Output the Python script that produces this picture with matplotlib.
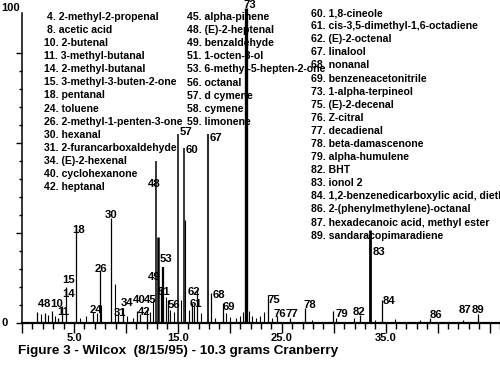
import matplotlib
matplotlib.use("Agg")
import matplotlib.pyplot as plt
import numpy as np
from matplotlib.ticker import MultipleLocator, FixedLocator, FuncFormatter

# ---------------- data ----------------
# labelled peaks: compound number, retention time (min), relative height (%)
peak_num = [4, 8, 10, 11, 14, 15, 18, 24, 26, 30, 31, 34, 40, 42, 45, 48, 49, 51, 53, 56,
            57, 60, 61, 62, 67, 68, 69, 73, 75, 76, 77, 78, 79, 82, 83, 84, 86, 87, 89]
peak_rt = [1.44, 2.21, 2.89, 3.46, 3.85, 4.23, 5.20, 6.83, 7.51, 8.57, 9.24, 9.72, 11.07, 11.36,
           12.03, 12.90, 13.09, 13.38, 13.57, 14.05, 15.01, 15.59, 16.36, 16.84, 17.90, 18.19,
           19.35, 21.56, 23.68, 24.54, 25.79, 27.24, 29.93, 32.53, 33.49, 34.65, 39.27, 42.44, 43.89]
peak_height = [3.5, 3.2, 3.9, 1.6, 5.5, 11.6, 29.3, 3.5, 17.0, 33.8, 2.9, 4.8, 3.9, 2.9,
               4.5, 52.1, 27.7, 11.3, 18.0, 7.4, 61.1, 56.6, 6.4, 10.6, 61.1, 9.6,
               6.4, 101.5, 9.0, 2.3, 1.6, 4.8, 3.9, 2.6, 29.9, 7.4, 1.6, 1.0, 2.9]

# unlabelled peaks
minor_rt = [1.83, 2.50, 3.18, 5.58, 6.16, 7.20, 7.60, 8.95, 10.10, 10.70, 12.30, 12.60, 13.86,
            14.20, 14.60, 15.30, 15.69, 16.07, 16.60, 17.20, 18.60, 19.60, 20.00, 20.60, 21.00,
            21.27, 21.85, 22.10, 22.50, 22.90, 23.30, 24.06, 27.90, 30.20, 31.95, 33.97, 35.90, 38.30]
minor_height = [2.9, 2.6, 2.3, 1.6, 2.3, 3.2, 5.8, 12.5, 2.3, 1.6, 3.5, 7.4, 8.4,
                4.2, 3.5, 7.4, 33.1, 4.2, 5.5, 3.2, 1.6, 3.2, 1.9, 1.6, 2.3,
                3.5, 3.9, 2.3, 1.6, 2.3, 3.5, 1.6, 1.0, 1.6, 1.6, 1.0, 1.3, 1.0]

compound_names = {
    4: "2-methyl-2-propenal", 8: "acetic acid", 10: "2-butenal", 11: "3-methyl-butanal",
    14: "2-methyl-butanal", 15: "3-methyl-3-buten-2-one", 18: "pentanal", 24: "toluene",
    26: "2-methyl-1-penten-3-one", 30: "hexanal", 31: "2-furancarboxaldehyde",
    34: "(E)-2-hexenal", 40: "cyclohexanone", 42: "heptanal",
    45: "alpha-pinene", 48: "(E)-2-heptenal", 49: "benzaldehyde", 51: "1-octen-3-ol",
    53: "6-methyl-5-hepten-2-one", 56: "octanal", 57: "d cymene", 58: "cymene", 59: "limonene",
    60: "1,8-cineole", 61: "cis-3,5-dimethyl-1,6-octadiene", 62: "(E)-2-octenal", 67: "linalool",
    68: "nonanal", 69: "benzeneacetonitrile", 73: "1-alpha-terpineol", 75: "(E)-2-decenal",
    76: "Z-citral", 77: "decadienal", 78: "beta-damascenone", 79: "alpha-humulene", 82: "BHT",
    83: "ionol 2", 84: "1,2-benzenedicarboxylic acid, diethyl ester", 86: "2-(phenylmethylene)-octanal",
    87: "hexadecanoic acid, methyl ester", 89: "sandaracopimaradiene",
}
legend_columns = [
    [4, 8, 10, 11, 14, 15, 18, 24, 26, 30, 31, 34, 40, 42],
    [45, 48, 49, 51, 53, 56, 57, 58, 59],
    [60, 61, 62, 67, 68, 69, 73, 75, 76, 77, 78, 79, 82, 83, 84, 86, 87, 89],
]
x_label_ticks = [5, 15, 25, 35]
title = "Figure 3 - Wilcox  (8/15/95) - 10.3 grams Cranberry"

# ---------------- layout / style ----------------
W, H = 500, 366
fig = plt.figure(figsize=(W / 100, H / 100), dpi=100)
ax = fig.add_axes([22 / W, 1 - 323 / H, 478 / W, 310 / H])
ax.set_xlim(0, 46)
ax.set_ylim(0, 100)

thick = {73: 2.4, 83: 2.0, 53: 1.6, 49: 1.8, 48: 1.1, 57: 1.1, 60: 1.1, 67: 1.2}
lw_main = [thick.get(n, 0.9) for n in peak_num]
ax.vlines(peak_rt, 0, peak_height, colors="black", linewidths=lw_main, clip_on=False)
ax.vlines(minor_rt, 0, minor_height, colors="black", linewidths=0.8, clip_on=False)

for s in ("top", "right"):
    ax.spines[s].set_visible(False)
ax.spines["bottom"].set_linewidth(1.6)
ax.spines["left"].set_linewidth(1.1)

ax.xaxis.set_major_locator(MultipleLocator(5))
ax.xaxis.set_minor_locator(MultipleLocator(1))
ax.xaxis.set_major_formatter(FuncFormatter(
    lambda v, p: f"{v:.1f}" if any(abs(v - t) < 1e-6 for t in x_label_ticks) else ""))
ax.tick_params(axis="x", which="major", direction="out", length=7.5, width=1.0, pad=0,
               labelsize=8)
ax.tick_params(axis="x", which="minor", direction="out", length=4, width=1.0)
for lab in ax.get_xticklabels():
    lab.set_fontweight("bold")
    lab.set_family("Liberation Sans")

y_step = 5.8
ax.yaxis.set_major_locator(FixedLocator(np.arange(0, 90, y_step * 5)))
ax.yaxis.set_minor_locator(FixedLocator(np.arange(0, 90, y_step)))
ax.yaxis.set_major_formatter(FuncFormatter(lambda v, p: ""))
ax.tick_params(axis="y", which="major", direction="out", length=4, width=1.0)
ax.tick_params(axis="y", which="minor", direction="out", length=2.2, width=1.0)

bold = dict(fontweight="bold", family="Liberation Sans", color="black")
narrow = dict(fontweight="bold", family=["Liberation Sans Narrow", "Liberation Sans"], color="black")


def ptext(x, y, s, size, style, ha="left", va="baseline"):
    fig.text(x / W, 1 - y / H, s, fontsize=size, ha=ha, va=va, **style)


ptext(1, 8, "100", 8, narrow, ha="left", va="center")
ptext(1, 323, "0", 8, narrow, ha="left", va="center")
ptext(18, 351, title, 9.7, bold, va="center")

# legend columns: (x of left edge, baseline of first row, row step) in pixels
col_layout = [(44, 19.5, 13.15), (187, 19.5, 13.2), (311, 16.0, 13.1)]
for nums, (cx, cy, step) in zip(legend_columns, col_layout):
    for i, n in enumerate(nums):
        dx = 3 if n < 10 else 0
        ptext(cx + dx, cy + i * step, f"{n}. {compound_names[n]}", 7.6, narrow)

# peak number labels: left edge x, baseline y (pixels)
label_pos = {
    4: (38, 307), 8: (44, 307), 10: (50, 307), 11: (57, 315), 14: (62, 297), 15: (62, 283),
    18: (72, 233), 24: (90, 313), 26: (95, 272), 30: (105, 218), 31: (114, 316), 34: (121, 306),
    40: (133, 303), 45: (144, 303), 42: (138, 315), 48: (148, 187), 49: (148, 280),
    51: (158, 295), 53: (160, 262), 56: (168, 308), 57: (180, 135), 60: (186, 153),
    61: (190, 307), 62: (188, 295), 67: (210, 141), 68: (213, 298), 69: (223, 310),
    73: (243, 8), 75: (267, 303), 76: (273, 317), 77: (285, 317), 78: (303, 308),
    79: (335, 317), 82: (353, 315), 83: (373, 255), 84: (383, 304), 86: (430, 318),
    87: (459, 313), 89: (472, 313),
}
for n in peak_num:
    x, y = label_pos[n]
    ptext(x, y, str(n), 8.2, narrow)

fig.savefig("out.png", dpi=100, facecolor="white")
